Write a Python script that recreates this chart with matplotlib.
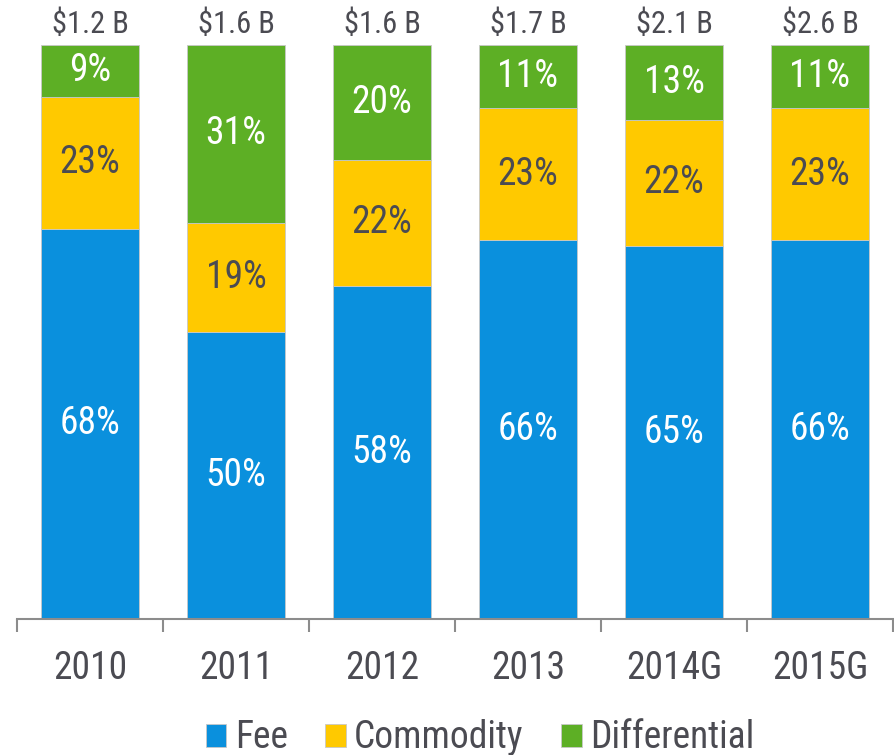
import matplotlib.pyplot as plt
import numpy as np

years = ["2010", "2011", "2012", "2013", "2014G", "2015G"]
totals = ["$1.2 B", "$1.6 B", "$1.6 B", "$1.7 B", "$2.1 B", "$2.6 B"]
fee = [68, 50, 58, 66, 65, 66]
commodity = [23, 19, 22, 23, 22, 23]
differential = [9, 31, 20, 11, 13, 11]

BLUE = "#0a90dd"
YELLOW = "#ffc900"
GREEN = "#5daf25"
TEXT = "#4b4b52"

plt.rcParams["font.family"] = ["Roboto Condensed", "DejaVu Sans"]

fig = plt.figure(figsize=(8.95, 7.55), dpi=100)
ax = fig.add_axes([17 / 895, 1 - 619 / 755, 876 / 895, 574 / 755])

x = np.arange(len(years))
w = 0.67
edge = dict(edgecolor="#c8c8c8", linewidth=0.6)
b1 = ax.bar(x, fee, w, color=BLUE, label="Fee", **edge)
b2 = ax.bar(x, commodity, w, bottom=fee, color=YELLOW, label="Commodity", **edge)
bottom2 = np.array(fee) + np.array(commodity)
b3 = ax.bar(x, differential, w, bottom=bottom2, color=GREEN, label="Differential", **edge)

for i in range(len(years)):
    ax.text(x[i], fee[i] / 2, f"{fee[i]}%", ha="center", va="center",
            color="white", fontsize=27)
    ax.text(x[i], fee[i] + commodity[i] / 2, f"{commodity[i]}%", ha="center",
            va="center", color=TEXT, fontsize=27)
    ax.text(x[i], bottom2[i] + differential[i] / 2, f"{differential[i]}%",
            ha="center", va="center", color="white", fontsize=27)
    ax.annotate(totals[i], (x[i], 100), xytext=(0, 4), textcoords="offset points",
                ha="center", va="bottom", color=TEXT, fontsize=22, annotation_clip=False)

ax.set_xlim(-0.5, len(years) - 0.5)
ax.set_ylim(0, 100)
for s in ["top", "right", "left"]:
    ax.spines[s].set_visible(False)
ax.spines["bottom"].set_color("#8c8c8c")
ax.spines["bottom"].set_linewidth(1.5)
ax.set_yticks([])
ax.set_xticks(np.arange(len(years) + 1) - 0.5, minor=False)
ax.set_xticklabels([])
ax.tick_params(axis="x", which="major", length=9, width=1.5, color="#8c8c8c")
ax.set_xticks(x, minor=True)
ax.set_xticklabels(years, minor=True, fontsize=27, color=TEXT)
ax.tick_params(axis="x", which="minor", length=0, pad=22)

fig.legend(handles=[b1, b2, b3], loc="center", bbox_to_anchor=(480 / 895, 1 - 738 / 755),
           ncol=3, frameon=False, fontsize=27, labelcolor=TEXT, handlelength=0.55,
           handleheight=0.55, handletextpad=0.22, columnspacing=1.0)

fig.savefig("out.png", dpi=100)
